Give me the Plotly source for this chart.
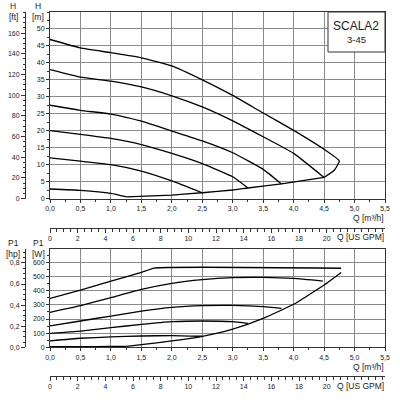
import plotly.graph_objects as go

# ---------------- data ----------------
# Head curves, Q [m3/h] vs H [m]
q_h1 = [0, 0.5, 1.0, 1.5, 2.0, 2.5, 3.0, 3.5, 4.0, 4.5, 4.75, 4.67, 4.5]
h_h1 = [46.9, 44.4, 43.0, 41.5, 39.1, 35.0, 30.4, 25.2, 20.1, 14.5, 11.1, 8.4, 6.2]
q_h2 = [0, 0.5, 1.0, 1.5, 2.0, 2.5, 3.0, 3.5, 4.0, 4.5]
h_h2 = [38.0, 35.8, 34.6, 32.9, 30.3, 27.0, 22.9, 18.2, 13.3, 6.2]
q_h3 = [0, 0.5, 1.0, 1.5, 2.0, 2.5, 3.0, 3.5, 3.8]
h_h3 = [27.5, 26.0, 24.9, 22.8, 19.9, 17.0, 13.5, 8.6, 4.3]
q_h4 = [0, 0.5, 1.0, 1.5, 2.0, 2.5, 3.0, 3.25]
h_h4 = [20.0, 18.9, 17.7, 15.9, 13.3, 10.3, 6.4, 3.1]
q_h5 = [0, 0.5, 1.0, 1.5, 2.0, 2.5]
h_h5 = [12.0, 11.0, 10.0, 8.1, 5.2, 1.7]
q_h6 = [0, 0.5, 1.0, 1.26]
h_h6 = [2.8, 2.4, 1.5, 0.45]
q_hsys = [1.26, 2.0, 2.5, 3.0, 3.25, 3.8, 4.5]
h_hsys = [0.45, 1.0, 1.7, 2.5, 3.1, 4.3, 6.2]

# Power curves, Q [m3/h] vs P1 [W]
q_p1 = [0, 0.5, 1.0, 1.5, 1.71, 4.78]
p_p1 = [346, 405, 468, 529, 560, 559]
q_p2 = [0, 0.5, 1.0, 1.5, 2.0, 2.5, 3.0, 3.5, 4.0, 4.48]
p_p2 = [247, 294, 351, 409, 452, 478, 492, 494, 487, 468]
q_p3 = [0, 0.5, 1.0, 1.5, 2.0, 2.5, 3.0, 3.5, 3.8]
p_p3 = [151, 186, 221, 256, 282, 294, 296, 287, 275]
q_p4 = [0, 0.5, 1.0, 1.5, 2.0, 2.5, 3.0, 3.25]
p_p4 = [99, 115, 139, 162, 181, 186, 181, 169]
q_p5 = [0, 0.5, 1.0, 1.5, 2.0, 2.5]
p_p5 = [45, 64, 73, 80, 83, 78]
q_p6 = [0, 0.5, 1.0, 1.26]
p_p6 = [5, 5, 6, 7]
q_psys = [1.26, 1.5, 2.0, 2.5, 3.0, 3.5, 4.0, 4.5, 4.78]
p_psys = [7, 19, 45, 78, 129, 205, 304, 440, 529]

q_ticks = [0, 0.5, 1.0, 1.5, 2.0, 2.5, 3.0, 3.5, 4.0, 4.5, 5.0, 5.5]
gpm_ticks = [0, 2, 4, 6, 8, 10, 12, 14, 16, 18, 20]
m_ticks = [0, 5, 10, 15, 20, 25, 30, 35, 40, 45, 50]
ft_ticks = [0, 20, 40, 60, 80, 100, 120, 140, 160]
w_ticks = [0, 100, 200, 300, 400, 500, 600]
hp_ticks = [0, 0.2, 0.4, 0.6, 0.8]

title_text = "SCALA2"
model_text = "3-45"

# ---------------- figure ----------------
W = 400.0
def px_x(p):
    return p / W
def px_y(p):
    return 1 - p / W

Q_MAX = 5.5
H_MAX = 55
P_MAX = 695
M3H_TO_GPM = 4.40287
M_TO_FT = 3.28084
W_TO_HP = 1 / 745.7

font = "Liberation Sans, Arial, sans-serif"
ink = "#222222"
grid = "#8a8a8a"
lw = 1.3

fig = go.Figure()
for q, h in [(q_h1, h_h1), (q_h2, h_h2), (q_h3, h_h3), (q_h4, h_h4),
             (q_h5, h_h5), (q_h6, h_h6), (q_hsys, h_hsys)]:
    fig.add_trace(go.Scatter(x=q, y=h, mode="lines", xaxis="x", yaxis="y",
                             line=dict(color="black", width=lw, shape="spline", smoothing=0.4),
                             hoverinfo="skip", showlegend=False))
for q, p in [(q_p1, p_p1), (q_p2, p_p2), (q_p3, p_p3), (q_p4, p_p4),
             (q_p5, p_p5), (q_p6, p_p6), (q_psys, p_psys)]:
    fig.add_trace(go.Scatter(x=q, y=p, mode="lines", xaxis="x3", yaxis="y3",
                             line=dict(color="black", width=lw, shape="spline", smoothing=0.4),
                             hoverinfo="skip", showlegend=False))
# invisible anchors for the secondary scales
fig.add_trace(go.Scatter(x=[None], y=[None], xaxis="x2", yaxis="y2", showlegend=False, hoverinfo="skip"))
fig.add_trace(go.Scatter(x=[None], y=[None], xaxis="x4", yaxis="y4", showlegend=False, hoverinfo="skip"))

xdom = [px_x(50), px_x(385)]
top_dom = [px_y(198.5), px_y(12)]
bot_dom = [px_y(347.3), px_y(249)]
tickfont = dict(family=font, size=7, color=ink)

def qaxis(anchor, dom):
    return dict(domain=dom, anchor=anchor, range=[0, Q_MAX], tickvals=q_ticks,
                tickformat=".1f", showgrid=True, gridcolor=grid, gridwidth=1,
                showline=True, mirror=True, linecolor="#333", linewidth=1,
                ticks="outside", ticklen=3, tickcolor="#333", tickfont=tickfont,
                minor=dict(dtick=0.25, tick0=0, ticks="outside", ticklen=2, tickcolor="#333", showgrid=False),
                zeroline=False, automargin=False, fixedrange=True)

def gpmaxis(over, pos):
    return dict(overlaying=over, anchor="free", position=pos, side="bottom",
                range=[0, Q_MAX * M3H_TO_GPM], tickvals=gpm_ticks, showgrid=False,
                showline=True, linecolor="#333", linewidth=1, ticks="outside",
                ticklen=4, tickcolor="#333", tickfont=tickfont,
                minor=dict(dtick=0.5, tick0=0, ticks="outside", ticklen=3, tickcolor="#333", showgrid=False),
                zeroline=False, automargin=False, fixedrange=True)

fig.update_layout(
    width=400, height=400, template="none",
    margin=dict(l=0, r=0, t=0, b=0),
    paper_bgcolor="white", plot_bgcolor="white",
    separators=", ",
    showlegend=False,
    font=dict(family=font, color=ink, size=8),
    xaxis=dict(qaxis("y", xdom), domain=xdom),
    xaxis3=dict(qaxis("y3", xdom), domain=xdom),
    xaxis2=gpmaxis("x", px_y(227.7)),
    xaxis4=gpmaxis("x3", px_y(375.7)),
    yaxis=dict(domain=top_dom, anchor="x", range=[0, H_MAX], tickvals=m_ticks,
               showgrid=True, gridcolor=grid, gridwidth=1, showline=True, mirror=True,
               linecolor="#333", linewidth=1, ticks="outside", ticklen=3, tickcolor="#333",
               tickfont=tickfont,
               minor=dict(dtick=2.5, tick0=0, ticks="outside", ticklen=2, tickcolor="#333", showgrid=False),
               zeroline=False, automargin=False, fixedrange=True),
    yaxis2=dict(overlaying="y", anchor="free", position=px_x(25), side="left",
                range=[0, H_MAX * M_TO_FT], tickvals=ft_ticks, showgrid=False,
                showline=True, linecolor="#333", linewidth=1, ticks="outside", ticklen=4,
                tickcolor="#333", tickfont=tickfont,
                minor=dict(dtick=5, tick0=0, ticks="outside", ticklen=2, tickcolor="#333", showgrid=False),
                zeroline=False, automargin=False, fixedrange=True),
    yaxis3=dict(domain=bot_dom, anchor="x3", range=[0, P_MAX], tickvals=w_ticks,
                showgrid=True, gridcolor=grid, gridwidth=1, showline=True, mirror=True,
                linecolor="#333", linewidth=1, ticks="outside", ticklen=3, tickcolor="#333",
                tickfont=tickfont,
                minor=dict(dtick=50, tick0=0, ticks="outside", ticklen=2, tickcolor="#333", showgrid=False),
                zeroline=False, automargin=False, fixedrange=True),
    yaxis4=dict(overlaying="y3", anchor="free", position=px_x(25), side="left",
                range=[0, P_MAX * W_TO_HP], tickvals=hp_ticks, tickformat=".1f", showgrid=False,
                showline=True, linecolor="#333", linewidth=1, ticks="outside", ticklen=4,
                tickcolor="#333", tickfont=tickfont,
                minor=dict(dtick=0.05, tick0=0, ticks="outside", ticklen=2, tickcolor="#333", showgrid=False),
                zeroline=False, automargin=False, fixedrange=True),
)

# model box
fig.add_shape(type="rect", xref="paper", yref="paper",
              x0=px_x(328), x1=px_x(385), y0=px_y(52), y1=px_y(12),
              fillcolor="white", line=dict(color="#333", width=1), layer="above")

def ann(text, x, y, size=8.5, xanchor="center"):
    fig.add_annotation(text=text, x=px_x(x), y=px_y(y), xref="paper", yref="paper",
                       showarrow=False, xanchor=xanchor, yanchor="middle",
                       font=dict(family=font, size=size, color=ink))

ann(title_text, 356, 26, size=12)
ann(model_text, 356, 40, size=9.5)
ann("H", 13, 6)
ann("[ft]", 13, 17)
ann("H", 38, 6)
ann("[m]", 38, 17)
ann("P1", 13, 243)
ann("[hp]", 13, 253.5)
ann("P1", 38, 243)
ann("[W]", 38, 253.5)
ann("Q [m³/h]", 386, 218, xanchor="right")
ann("Q [US GPM]", 386, 237, xanchor="right")
ann("Q [m³/h]", 386, 367, xanchor="right")
ann("Q [US GPM]", 386, 385.5, xanchor="right")

fig.write_html("out.html")
